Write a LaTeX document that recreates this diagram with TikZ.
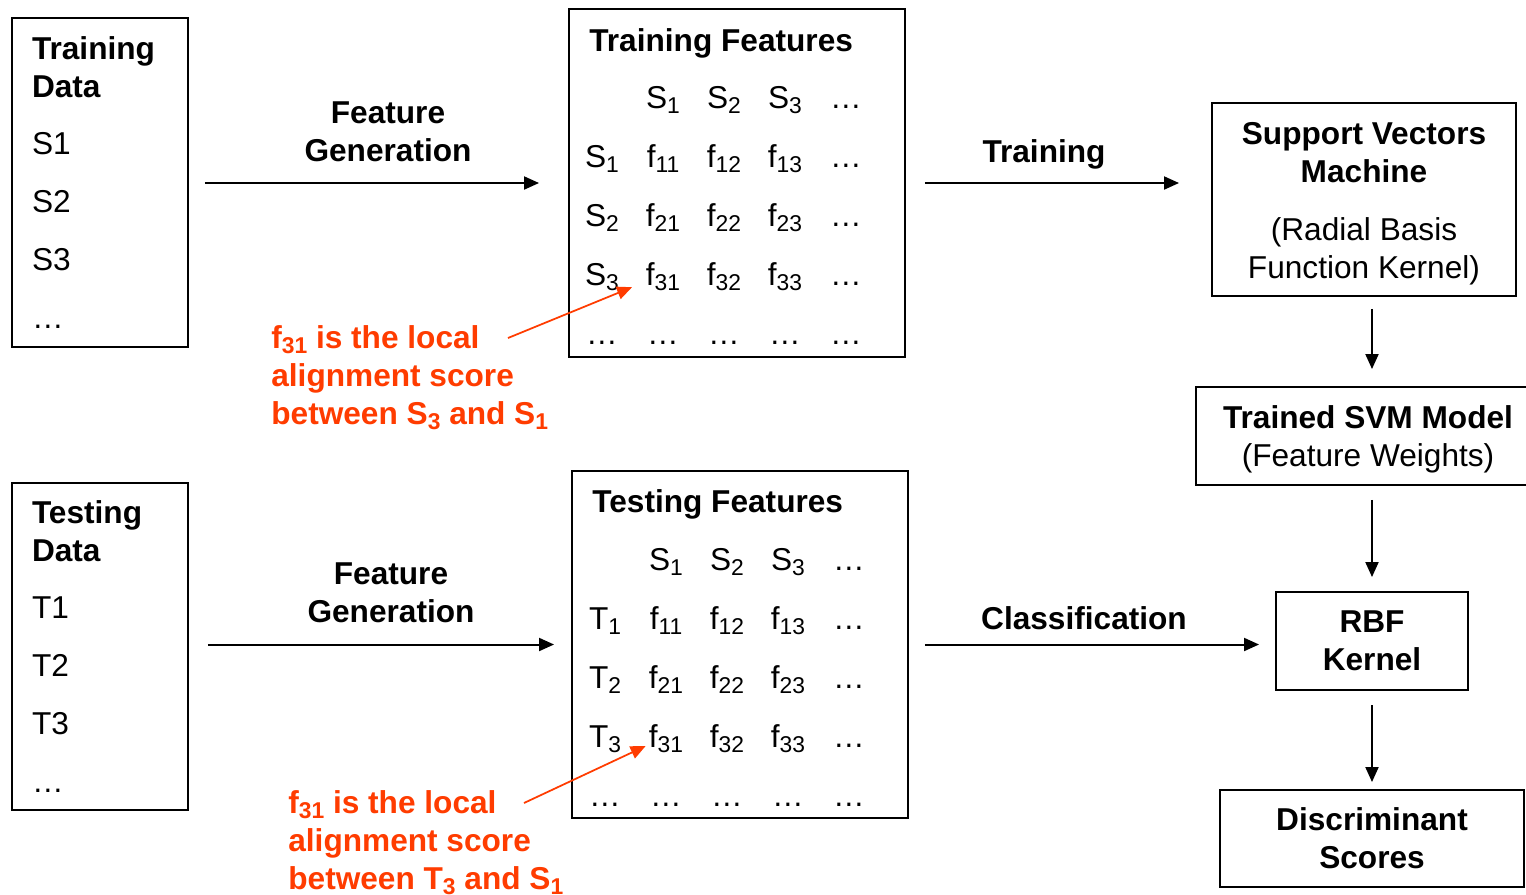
\documentclass[tikz,border=0pt]{standalone}
\usepackage{fontspec}
\setmainfont{Liberation Sans}
\usetikzlibrary{arrows.meta, matrix, positioning}
\definecolor{notered}{RGB}{255, 60, 0}
\newcommand{\subidx}[1]{\raisebox{-2.8pt}{\fontsize{13}{13}\selectfont#1}}

\begin{document}
\begin{tikzpicture}[
        x=0.02cm, y=-0.02cm,
        font=\fontsize{18}{21.6}\selectfont,
        box/.style={draw, line width=0.04cm, inner sep=0pt, align=center},
        lbl/.style={inner sep=0pt, align=center, font=\fontsize{18}{21.6}\selectfont\bfseries},
        note/.style={anchor=north west, inner sep=0pt, align=left, text=notered, font=\fontsize{18}{21.6}\selectfont\bfseries},
        arrow/.style={-{Triangle[length=0.3cm, width=0.26cm]}, line width=0.04cm},
        notearrow/.style={arrow, draw=notered, fill=notered, line width=0.035cm},
        feat/.style={matrix of nodes, inner sep=0pt, nodes={minimum width=1.22cm, minimum height=1.18cm, text height=0.454cm, text depth=0pt, inner sep=0pt, anchor=center}}
    ]
        \path[use as bounding box, fill=white] (0,0) rectangle (1526,894);

        % Data
        \node[box, align=left, text width=2.72cm, inner xsep=0.4cm, minimum height=6.58cm] (trdata) at (100,182.5)
            {\textbf{Training}\\\textbf{Data}\\[0.4cm]S1\\[0.4cm]S2\\[0.4cm]S3\\[0.4cm]…};
        \node[box, align=left, text width=2.72cm, inner xsep=0.4cm, minimum height=6.54cm] (tsdata) at (100,646.5)
            {\textbf{Testing}\\\textbf{Data}\\[0.4cm]T1\\[0.4cm]T2\\[0.4cm]T3\\[0.4cm]…};

        % Training features
        \node[box, minimum width=6.72cm, minimum height=6.96cm] (trfeat) at (737,183) {};
        \node[lbl, anchor=base west] (trtitle) at (589,51.5) {Training Features};
        \matrix[feat] (trmat) at (724,215.5) {
                        & S\subidx{1} & S\subidx{2} & S\subidx{3} & … \\
            S\subidx{1} & f\subidx{11} & f\subidx{12} & f\subidx{13} & … \\
            S\subidx{2} & f\subidx{21} & f\subidx{22} & f\subidx{23} & … \\
            S\subidx{3} & f\subidx{31} & f\subidx{32} & f\subidx{33} & … \\
            … & … & … & … & … \\
        };

        % Testing features
        \node[box, minimum width=6.72cm, minimum height=6.94cm] (tsfeat) at (740,644.5) {};
        \node[lbl, anchor=base west] (tstitle) at (592,512.5) {Testing Features};
        \matrix[feat] (tsmat) at (727,677.5) {
                        & S\subidx{1} & S\subidx{2} & S\subidx{3} & … \\
            T\subidx{1} & f\subidx{11} & f\subidx{12} & f\subidx{13} & … \\
            T\subidx{2} & f\subidx{21} & f\subidx{22} & f\subidx{23} & … \\
            T\subidx{3} & f\subidx{31} & f\subidx{32} & f\subidx{33} & … \\
            … & … & … & … & … \\
        };

        % Model
        \node[box, minimum width=6.08cm, minimum height=3.86cm] (svm) at (1364,199.5)
            {\rule{0pt}{0.62cm}\textbf{Support Vectors}\\\textbf{Machine}\\[0.4cm](Radial Basis\\Function Kernel)};
        \node[box, minimum width=6.88cm, minimum height=1.96cm] (trained) at (1368,436)
            {\rule{0pt}{0.58cm}\textbf{Trained SVM Model}\\(Feature Weights)};
        \node[box, minimum width=3.84cm, minimum height=1.96cm] (rbf) at (1372,641)
            {\textbf{RBF}\\\textbf{Kernel}};
        \node[box, minimum width=6.08cm, minimum height=1.94cm] (disc) at (1372,838.5)
            {\textbf{Discriminant}\\\textbf{Scores}};

        % Arrow labels
        \node[lbl] (trgen) at (388,131.5) {Feature\\Generation};
        \node[lbl] (tsgen) at (391,593) {Feature\\Generation};
        \node[lbl, anchor=base] (trainlbl) at (1044,162.4) {Training};
        \node[lbl, anchor=base] (classlbl) at (1084,629.4) {Classification};

        % Arrows
        \draw[arrow, shorten <=0.32cm, shorten >=0.58cm] (trdata.east |- trfeat.west) -- (trfeat.west);
        \draw[arrow, shorten <=0.38cm, shorten >=0.34cm] (tsdata.east |- tsfeat.west) -- (tsfeat.west);
        \draw[arrow, shorten <=0.38cm, shorten >=0.64cm] (trfeat.east) -- (trfeat.east -| svm.west);
        \draw[arrow, shorten <=0.32cm, shorten >=0.32cm] (tsfeat.east) -- (tsfeat.east -| rbf.west);
        \draw[arrow, shorten <=0.24cm, shorten >=0.34cm] (svm.south -| rbf) -- (trained.north -| rbf);
        \draw[arrow, shorten <=0.28cm, shorten >=0.28cm] (trained.south -| rbf) -- (rbf.north);
        \draw[arrow, shorten <=0.28cm, shorten >=0.14cm] (rbf.south) -- (disc.north);

        % Notes
        \node[note] (trnote) at (271,325) {f\subidx{31} is the local\\alignment score\\between S\subidx{3} and S\subidx{1}};
        \node[note] (tsnote) at (288,790) {f\subidx{31} is the local\\alignment score\\between T\subidx{3} and S\subidx{1}};
        \coordinate (trtail) at (508,338);
        \coordinate (tstail) at (524,803);
        \draw[notearrow, shorten >=0.67cm] (trtail) -- (trmat-4-2.center);
        \draw[notearrow, shorten >=0.45cm] (tstail) -- (tsmat-4-2.center);
    \end{tikzpicture}
\end{document}
